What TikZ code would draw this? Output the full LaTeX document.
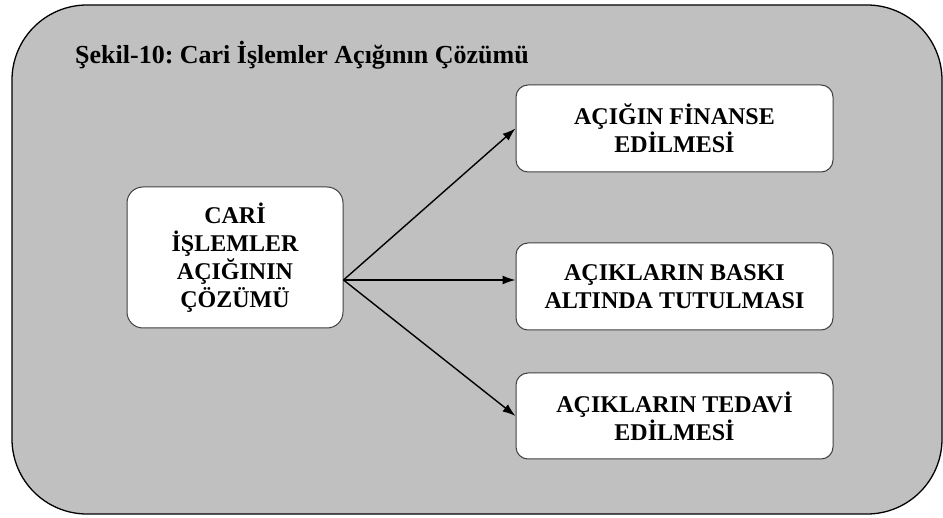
\documentclass[tikz,border=0pt]{standalone}
\usepackage{fontspec}
\setmainfont{Liberation Serif}
\usetikzlibrary{arrows.meta}
\definecolor{panel}{HTML}{C0C0C0}
\definecolor{boxline}{HTML}{404040}
\tikzset{
  panelbox/.style={draw=black, fill=panel, line width=1.3pt, rounded corners=75pt},
  itembox/.style={draw=boxline, fill=white, line width=1pt, rounded corners=12pt,
    align=center, font=\bfseries\fontsize{24}{28}\selectfont, inner sep=0pt},
  link/.style={line width=1.4pt, -{Latex[length=13pt,width=9pt]}}
}
\frenchspacing
\begin{document}
\begin{tikzpicture}[x=1pt,y=-1pt]
\useasboundingbox (0,0) rectangle (943,518);
\draw[panelbox] (12,5) rectangle (942,514);
\node[anchor=base west, font=\bfseries\fontsize{26}{30}\selectfont, inner sep=0pt] (title) at (75,64) {Şekil-10: Cari İşlemler Açığının Çözümü};
\node[itembox, minimum width=216pt, minimum height=141pt, rounded corners=16pt] (c) at (235,257.5) {CARİ\\İŞLEMLER\\AÇIĞININ\\ÇÖZÜMÜ};
\node[itembox, minimum width=317pt, minimum height=87pt] (b1) at (674.5,128.5) {AÇIĞIN FİNANSE\\EDİLMESİ};
\node[itembox, minimum width=317pt, minimum height=87pt] (b2) at (674.5,286.5) {AÇIKLARIN BASKI\\ALTINDA TUTULMASI};
\node[itembox, minimum width=317pt, minimum height=86pt] (b3) at (674.5,416) {AÇIKLARIN TEDAVİ\\EDİLMESİ};
\coordinate (src) at ([yshift=-22.5pt]c.east);
\coordinate (t2) at ([yshift=6.5pt]b2.west);
\draw[link] (src) -- (b1.west);
\draw[link] (src) -- (t2);
\draw[link] (src) -- (b3.west);
\end{tikzpicture}
\end{document}
